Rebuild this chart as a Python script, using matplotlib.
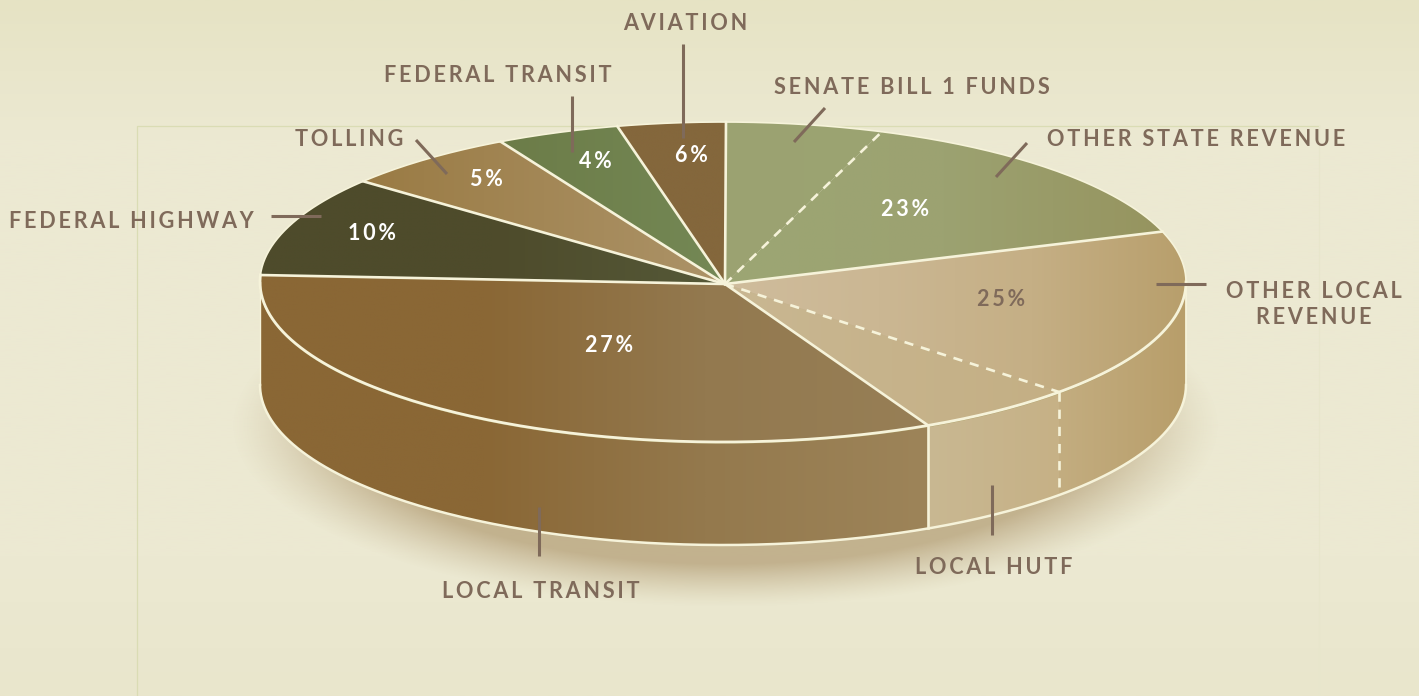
import numpy as np
import matplotlib
matplotlib.use('Agg')
import matplotlib.pyplot as plt
from matplotlib.colors import LinearSegmentedColormap
from matplotlib.patches import Polygon

# sizes of the drawn wedges, clockwise from 12 o'clock (degrees)
slice_names = ['Senate Bill 1 Funds', 'Other State Revenue', 'Other Local Revenue', 'Local HUTF',
               'Local Transit', 'Federal Highway', 'Tolling', 'Federal Transit', 'Aviation']
slice_spans = [19.7, 51.55, 61.83, 20.25, 118.8, 36.5, 22.3, 15.5, 13.57]
slice_colors = [
    ['#9BA271', '#9CA472'],
    ['#9CA674', '#9CA271', '#96945F'],
    ['#CFBC9C', '#CBB793', '#C5AF85', '#B89F6C'],
    ['#C9B792', '#C4AF84'],
    ['#8A6735', '#8A6735', '#93794F', '#977F56'],
    ['#4E4B2B', '#4E4B2B', '#555938'],
    ['#9A7B44', '#AC9368'],
    ['#6C7C48', '#748855'],
    ['#84673C', '#84673C'],
]
wall_colors = {
    'Other Local Revenue': ['#C3AD80', '#B89E6A'],
    'Local HUTF': ['#C9B892', '#C6B186'],
    'Local Transit': ['#8A6735', '#8A6735', '#94794D', '#9D8459'],
}
# the two dashed dividers sit inside these groups
dashed_after = ['Senate Bill 1 Funds', 'Other Local Revenue']

pct_labels = ['23%', '25%', '27%', '10%', '5%', '4%', '6%']
pct_x = [905, 1001, 609, 372, 486, 595, 691]
pct_y = [209, 299, 345, 234, 179, 161, 155]
pct_colors = ['white', '#7F6A5A', 'white', 'white', 'white', 'white', 'white']

label_texts = ['AVIATION', 'FEDERAL TRANSIT', 'SENATE BILL 1 FUNDS', 'OTHER STATE REVENUE', 'TOLLING',
               'FEDERAL HIGHWAY', 'OTHER LOCAL', 'REVENUE', 'LOCAL HUTF', 'LOCAL TRANSIT']
label_x = [685, 498, 912, 1196, 349, 131, 1314, 1314, 994, 541]
label_y = [23, 75, 87, 139, 139, 221, 291, 317, 567, 591]

leader_x = [(683, 683), (572, 572), (825, 794), (1027, 996), (416, 447), (271, 321), (1156, 1206), (992, 992), (539, 539)]
leader_y = [(44, 138), (96, 152), (108, 142), (143, 177), (140, 174), (216, 216), (284, 284), (485, 535), (507, 556)]

cx, cy, rx, ry, depth = 723, 282, 463, 160, 103
apex_x, apex_y = 725, 284
start_angle = 0.37
edge = '#F6F3DA'
text_col = '#7F6A5A'
plt.rcParams['font.family'] = ['Lato', 'DejaVu Sans']


def rim(a0, a1, n=120):
    a = np.radians(np.linspace(a0, a1, n))
    return cx + rx * np.sin(a), cy - ry * np.cos(a)


def gradient_fill(ax, xs, ys, colors, z):
    cmap = LinearSegmentedColormap.from_list('g', colors)
    grad = np.linspace(0, 1, 512).reshape(1, -1)
    im = ax.imshow(grad, cmap=cmap, aspect='auto', zorder=z, interpolation='bilinear',
                   extent=[min(xs), max(xs), max(ys), min(ys)])
    poly = Polygon(np.column_stack([xs, ys]), closed=True, fc='none', ec='none', transform=ax.transData)
    ax.add_patch(poly)
    im.set_clip_path(poly)


def spaced(s, gap='\u200a\u200a'):
    return gap.join(s)


fig = plt.figure(figsize=(14.19, 6.96), dpi=100)
ax = fig.add_axes([0, 0, 1, 1])

# page background
bg = LinearSegmentedColormap.from_list('bg', [(0, '#E6E3C4'), (0.2, '#ECE9D2'), (0.8, '#ECE9D2'), (1, '#E9E6CC')])
ax.imshow(np.linspace(0, 1, 256).reshape(-1, 1), cmap=bg, aspect='auto', extent=[0, 1419, 696, 0], zorder=0)
ax.plot([137, 137, 1319], [696, 126, 126], color='#DADCB4', lw=0.9, zorder=1)
ax.plot([1319, 1319], [126, 696], color='#E8E6CC', lw=0.9, zorder=1)

# soft shadow under the pie
yy, xx = np.mgrid[0:696, 0:1419]
r = np.sqrt(((xx - 725) / 495) ** 2 + ((yy - 425) / 182) ** 2)
shadow = np.zeros((696, 1419, 4))
shadow[..., :3] = matplotlib.colors.to_rgb('#9C7F50')
shadow[..., 3] = 0.52 * np.clip((1 - r) / 0.24, 0, 1) ** 1.3
ax.imshow(shadow, extent=[0, 1419, 696, 0], aspect='auto', zorder=2)

# walls, then the top face
ends = start_angle + np.cumsum(slice_spans)
starts = ends - np.array(slice_spans)
z = 3
for name, a0, a1 in zip(slice_names, starts, ends):
    if name in wall_colors:
        xs, ys = rim(max(a0, 90), min(a1, 270))
        gradient_fill(ax, np.r_[xs, xs[::-1]], np.r_[ys, ys[::-1] + depth], wall_colors[name], z)
        z += 1

for name, a0, a1, cols in zip(slice_names, starts, ends, slice_colors):
    xs, ys = rim(a0, a1)
    gradient_fill(ax, np.r_[apex_x, xs], np.r_[apex_y, ys], cols, z)
    z += 1

# outlines
xs, ys = rim(90, 270, 240)
ax.plot(xs, ys + depth, color=edge, lw=1.8, zorder=30)
xs, ys = rim(90, ends[4], 240)
ax.plot(xs, ys + 1, color='#A89A62', lw=1.0, zorder=30)
ax.plot(xs, ys, color=edge, lw=2.0, zorder=31)
xs, ys = rim(ends[4] - 360, 90, 240)
ax.plot(xs, ys, color=edge, lw=1.2, zorder=31)
ax.plot([cx + rx, cx + rx], [cy, cy + depth], color=edge, lw=1.3, zorder=30)
ax.plot([cx - rx, cx - rx], [cy, cy + depth], color=edge, lw=1.0, zorder=30)
for name, a in zip(slice_names, ends):
    xe, ye = rim(a, a, 1)
    ls = (0, (3.5, 3)) if name in dashed_after else '-'
    ax.plot([apex_x, xe[0]], [apex_y, ye[0]], color=edge, lw=1.9, ls=ls, zorder=32)
    if 90 < a < 180:
        ax.plot([xe[0], xe[0]], [ye[0], ye[0] + depth], color=edge, lw=1.9, ls=ls, zorder=32)

# leader lines and labels
for lx, ly in zip(leader_x, leader_y):
    ax.plot(lx, ly, color=text_col, lw=2.2, solid_capstyle='butt', zorder=40)
for t, x, y in zip(label_texts, label_x, label_y):
    ax.text(x, y, spaced(t), color=text_col, fontsize=15.6, fontweight='bold', ha='center', va='center', zorder=41)
for t, x, y, c in zip(pct_labels, pct_x, pct_y, pct_colors):
    ax.text(x, y, spaced(t), color=c, fontsize=15.5, fontweight='bold', ha='center', va='center', zorder=41)

ax.set_xlim(0, 1419)
ax.set_ylim(696, 0)
ax.axis('off')
fig.savefig('out.png', dpi=100)
